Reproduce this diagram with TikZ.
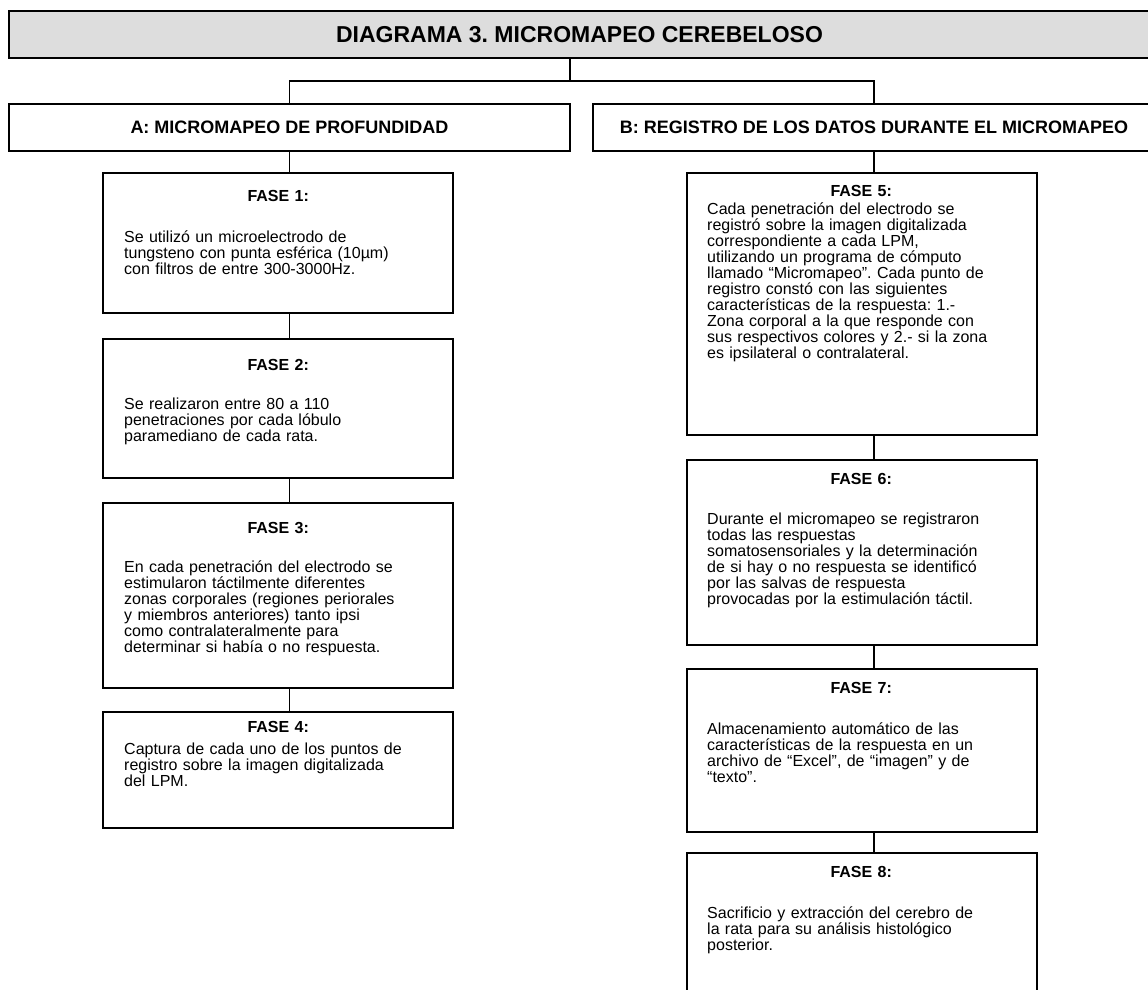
\documentclass[tikz,border=0pt]{standalone}
\usepackage{fontspec}
\setmainfont{Liberation Sans}
\definecolor{titlegray}{RGB}{221,221,221}
\frenchspacing
\begin{document}
\begin{tikzpicture}[x=1pt,y=-1pt,
  frame/.style={draw, line width=1.8pt, rectangle, inner sep=0pt, outer sep=0pt, anchor=north west},
  phasebox/.style={frame, minimum width=350pt},
  link/.style={line width=1.8pt},
  bighead/.style={font=\bfseries\fontsize{18pt}{20pt}\selectfont},
  phasetext/.style={anchor=base west, text width=308pt, align=left, inner sep=0pt,
    font=\fontsize{16pt}{16pt}\selectfont}]
\useasboundingbox (0,0) rectangle (1148,989);

% title bar
\node[frame, fill=titlegray, minimum width=1141pt, minimum height=47pt,
  font=\bfseries\fontsize{23pt}{25pt}\selectfont] (title) at (9,11)
  {DIAGRAMA 3. MICROMAPEO CEREBELOSO};

% the two branches
\node[frame, minimum width=561pt, minimum height=47pt, bighead] (boxA) at (9,104)
  {A: MICROMAPEO DE PROFUNDIDAD};
\node[frame, minimum width=562pt, minimum height=47pt, bighead] (boxB) at (593,104)
  {B: REGISTRO DE LOS DATOS DURANTE EL MICROMAPEO};

% left column boxes
\node[phasebox, minimum height=140pt] (f1) at (103,173) {};
\node[phasebox, minimum height=139pt] (f2) at (103,339) {};
\node[phasebox, minimum height=185pt] (f3) at (103,503) {};
\node[phasebox, minimum height=116pt] (f4) at (103,712) {};

% right column boxes
\node[phasebox, minimum height=262pt] (f5) at (687,173) {};
\node[phasebox, minimum height=185pt] (f6) at (687,460) {};
\node[phasebox, minimum height=163pt] (f7) at (687,669) {};
\node[phasebox, minimum height=145pt] (f8) at (687,853) {};

% box texts
\node[phasetext] (f1t) at (124,201) {\makebox[308pt]{\bfseries FASE 1:}\\[25pt]
  Se utilizó un microelectrodo de\\tungsteno con punta esférica (10µm)\\con filtros de entre 300-3000Hz.};
\node[phasetext] (f2t) at (124,370) {\makebox[308pt]{\bfseries FASE 2:}\\[23pt]
  Se realizaron entre 80 a 110\\penetraciones por cada lóbulo\\paramediano de cada rata.};
\node[phasetext] (f3t) at (124,533) {\makebox[308pt]{\bfseries FASE 3:}\\[23pt]
  En cada penetración del electrodo se\\estimularon táctilmente diferentes\\zonas corporales (regiones periorales\\y miembros anteriores) tanto ipsi\\como contralateralmente para\\determinar si había o no respuesta.};
\node[phasetext] (f4t) at (124,732) {\makebox[308pt]{\bfseries FASE 4:}\\[6pt]
  Captura de cada uno de los puntos de\\registro sobre la imagen digitalizada\\del LPM.};

\node[phasetext] (f5t) at (707,196) {\makebox[308pt]{\bfseries FASE 5:}\\[2pt]
  Cada penetración del electrodo se\\registró sobre la imagen digitalizada\\correspondiente a cada LPM,\\utilizando un programa de cómputo\\llamado “Micromapeo”. Cada punto de\\registro constó con las siguientes\\características de la respuesta: 1.-\\Zona corporal a la que responde con\\sus respectivos colores y 2.- si la zona\\es ipsilateral o contralateral.};
\node[phasetext] (f6t) at (707,484) {\makebox[308pt]{\bfseries FASE 6:}\\[24pt]
  Durante el micromapeo se registraron\\todas las respuestas\\somatosensoriales y la determinación\\de si hay o no respuesta se identificó\\por las salvas de respuesta\\provocadas por la estimulación táctil.};
\node[phasetext] (f7t) at (707,693) {\makebox[308pt]{\bfseries FASE 7:}\\[25pt]
  Almacenamiento automático de las\\características de la respuesta en un\\archivo de “Excel”, de “imagen” y de\\“texto”.};
\node[phasetext] (f8t) at (707,877) {\makebox[308pt]{\bfseries FASE 8:}\\[25pt]
  Sacrificio y extracción del cerebro de\\la rata para su análisis histológico\\posterior.};

% connectors from the title to both branches
\draw[link] (title.south -| boxA.east) -- ++(0,23) coordinate (hub);
\draw[link] (boxA.north) -- (boxA.north |- hub) -- (boxB.north |- hub) -- (boxB.north);

% left chain
\draw[link] (boxA.south) -- (boxA.south |- f1.north);
\draw[link] (f1.south -| boxA.south) -- (f2.north -| boxA.south);
\draw[link] (f2.south -| boxA.south) -- (f3.north -| boxA.south);
\draw[link] (f3.south -| boxA.south) -- (f4.north -| boxA.south);

% right chain
\draw[link] (boxB.south) -- (boxB.south |- f5.north);
\draw[link] (f5.south -| boxB.south) -- (f6.north -| boxB.south);
\draw[link] (f6.south -| boxB.south) -- (f7.north -| boxB.south);
\draw[link] (f7.south -| boxB.south) -- (f8.north -| boxB.south);
\end{tikzpicture}
\end{document}
